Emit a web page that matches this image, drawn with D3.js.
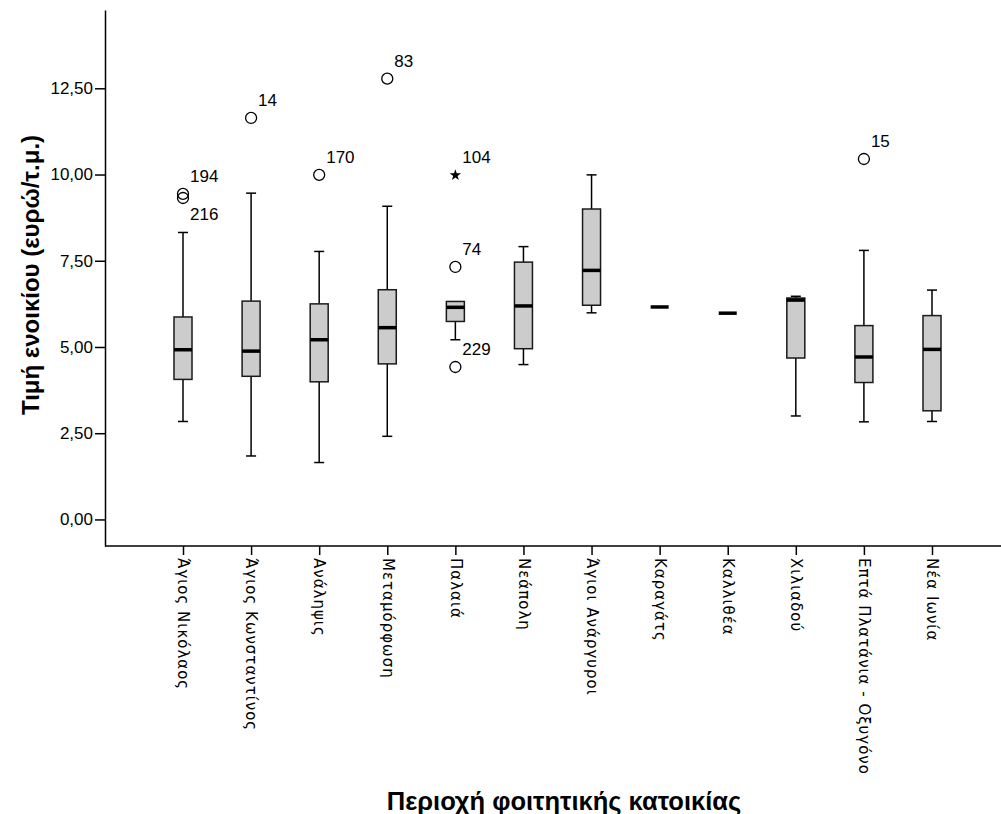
<!DOCTYPE html>
<html>
<head>
<meta charset="utf-8">
<script src="https://cdn.jsdelivr.net/npm/d3@7/dist/d3.min.js"></script>
<style>
  html, body { margin: 0; padding: 0; background: #fff; }
  svg { display: block; }
</style>
</head>
<body>
<script>
// ---- data ----
const categories = [
  "Άγιος Νικόλαος", "Άγιος Κωνσταντίνος", "Ανάληψις", "Μεταμόρφωση", "Παλαιά",
  "Νεάπολη", "Άγιοι Ανάργυροι", "Καραγάτς", "Καλλιθέα", "Χιλιαδού",
  "Επτά Πλατάνια - Οξυγόνο", "Νέα Ιωνία"
];
const whiskerLow  = [2.84, 1.84, 1.65, 2.41, 5.21, 4.49, 5.99, 6.16, 5.98, 3.00, 2.83, 2.84];
const q1          = [4.06, 4.15, 3.99, 4.51, 5.74, 4.95, 6.21, 6.16, 5.98, 4.68, 3.97, 3.15];
const median      = [4.92, 4.88, 5.21, 5.56, 6.15, 6.19, 7.22, 6.16, 5.98, 6.36, 4.71, 4.93];
const q3          = [5.87, 6.33, 6.25, 6.66, 6.32, 7.46, 9.00, 6.16, 5.98, 6.42, 5.62, 5.91];
const whiskerHigh = [8.32, 9.46, 7.77, 9.08, 6.32, 7.91, 9.99, 6.16, 5.98, 6.47, 7.80, 6.65];

const outlierCategory = ["Άγιος Νικόλαος", "Άγιος Νικόλαος", "Άγιος Κωνσταντίνος", "Ανάληψις",
  "Μεταμόρφωση", "Παλαιά", "Παλαιά", "Παλαιά", "Επτά Πλατάνια - Οξυγόνο"];
const outlierValue = [9.44, 9.32, 11.64, 9.99, 12.78, 9.98, 7.32, 4.42, 10.45];
const outlierId    = ["194", "216", "14", "170", "83", "104", "74", "229", "15"];
const outlierKind  = ["circle", "circle", "circle", "circle", "circle", "extreme", "circle", "circle", "circle"];

const yTicks = [0, 2.5, 5, 7.5, 10, 12.5];
const yTitle = "Τιμή ενοικίου (ευρώ/τ.μ.)";
const xTitle = "Περιοχή φοιτητικής κατοικίας";

// ---- chart ----
const W = 1001, H = 814;
const svg = d3.select("body").append("svg").attr("width", W).attr("height", H);

const x = d3.scalePoint().domain(categories).range([183, 932]);
const y = d3.scaleLinear().domain([-0.77, 14.77]).range([546, 10]);
const axisLeftX = 105, axisBottomY = 546;
const boxW = 18, capW = 10;

// y axis
const yAxis = svg.append("g")
  .attr("transform", `translate(${axisLeftX},0)`)
  .call(d3.axisLeft(y).tickValues(yTicks).tickSize(10).tickSizeOuter(0)
    .tickFormat(d => d.toFixed(2).replace(".", ",")));
yAxis.select(".domain").attr("stroke", "#000").attr("stroke-width", 1.5);
yAxis.selectAll(".tick line").attr("stroke", "#000").attr("stroke-width", 1.5);
yAxis.selectAll(".tick text")
  .attr("font-family", "Liberation Sans, Arial, sans-serif")
  .attr("font-size", 17).attr("fill", "#000").attr("x", -12);

// x axis
const xAxis = svg.append("g")
  .attr("transform", `translate(0,${axisBottomY})`)
  .call(d3.axisBottom(x).tickSize(9).tickSizeOuter(0));
xAxis.select(".domain").remove();
xAxis.append("line").attr("x1", axisLeftX).attr("x2", W).attr("y1", 0).attr("y2", 0)
  .attr("stroke", "#000").attr("stroke-width", 1.5);
xAxis.selectAll(".tick line").attr("stroke", "#000").attr("stroke-width", 1.5);
xAxis.selectAll(".tick text")
  .attr("font-family", "DejaVu Sans, sans-serif")
  .attr("font-size", 15).attr("letter-spacing", 1).attr("fill", "#000")
  .attr("transform", "rotate(90)")
  .attr("x", 12).attr("y", 0).attr("dy", "0.35em")
  .attr("text-anchor", "start");

// boxes
const rows = categories.map((c, i) => ({
  c, lo: whiskerLow[i], q1: q1[i], med: median[i], q3: q3[i], hi: whiskerHigh[i]
}));
const g = svg.append("g");
rows.forEach(d => {
  const cx = x(d.c);
  const single = d.q1 === d.q3;
  if (!single) {
    if (d.hi > d.q3) {
      g.append("line").attr("x1", cx).attr("x2", cx).attr("y1", y(d.q3)).attr("y2", y(d.hi))
        .attr("stroke", "#000").attr("stroke-width", 1.5);
      g.append("line").attr("x1", cx - capW / 2).attr("x2", cx + capW / 2).attr("y1", y(d.hi)).attr("y2", y(d.hi))
        .attr("stroke", "#000").attr("stroke-width", 1.5);
    }
    if (d.lo < d.q1) {
      g.append("line").attr("x1", cx).attr("x2", cx).attr("y1", y(d.q1)).attr("y2", y(d.lo))
        .attr("stroke", "#000").attr("stroke-width", 1.5);
      g.append("line").attr("x1", cx - capW / 2).attr("x2", cx + capW / 2).attr("y1", y(d.lo)).attr("y2", y(d.lo))
        .attr("stroke", "#000").attr("stroke-width", 1.5);
    }
    g.append("rect").attr("x", cx - boxW / 2).attr("width", boxW)
      .attr("y", y(d.q3)).attr("height", y(d.q1) - y(d.q3))
      .attr("fill", "#cccccc").attr("stroke", "#1a1a1a").attr("stroke-width", 1.5);
  }
  g.append("line").attr("x1", cx - boxW / 2).attr("x2", cx + boxW / 2)
    .attr("y1", y(d.med)).attr("y2", y(d.med))
    .attr("stroke", "#000").attr("stroke-width", 3.5);
});

// outliers
const labelBelow = new Set(["216"]);
outlierValue.forEach((v, i) => {
  const cx = x(outlierCategory[i]), cy = y(v);
  if (outlierKind[i] === "circle") {
    g.append("circle").attr("cx", cx).attr("cy", cy).attr("r", 5.5)
      .attr("fill", "none").attr("stroke", "#000").attr("stroke-width", 1.3);
  } else {
    g.append("path").attr("d", d3.symbol(d3.symbolStar, 40)())
      .attr("transform", `translate(${cx},${cy})`).attr("fill", "#000");
  }
  g.append("text").text(outlierId[i])
    .attr("x", cx + 7).attr("y", labelBelow.has(outlierId[i]) ? cy + 22 : cy - 12)
    .attr("font-family", "Liberation Sans, Arial, sans-serif")
    .attr("font-size", 17).attr("fill", "#000");
});

// titles
svg.append("text").text(yTitle)
  .attr("transform", `translate(39,275) rotate(-90)`)
  .attr("text-anchor", "middle")
  .attr("font-family", "Liberation Sans, Arial, sans-serif")
  .attr("font-weight", "bold").attr("font-size", 24).attr("fill", "#000");
svg.append("text").text(xTitle)
  .attr("x", 564).attr("y", 810)
  .attr("text-anchor", "middle")
  .attr("font-family", "Liberation Sans Narrow, Liberation Sans, Arial, sans-serif")
  .attr("font-weight", "bold").attr("font-size", 25.5).attr("fill", "#000");
</script>
</body>
</html>
